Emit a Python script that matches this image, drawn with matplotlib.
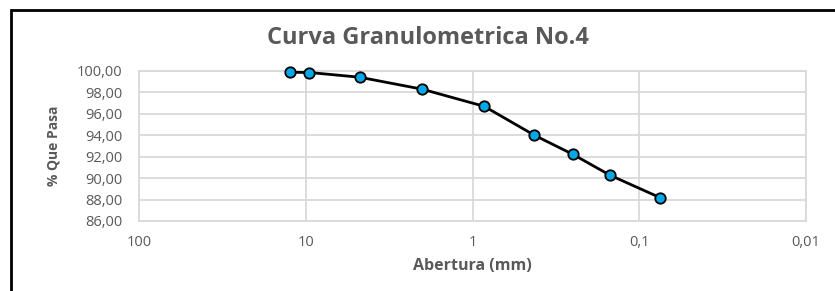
import matplotlib
matplotlib.use("Agg")
import matplotlib.pyplot as plt
from matplotlib.patches import Rectangle

abertura = [12.5, 9.5, 4.75, 2.0, 0.85, 0.425, 0.25, 0.15, 0.075]
pasa = [99.88, 99.86, 99.42, 98.30, 96.70, 94.00, 92.22, 90.28, 88.18]
x_ticks = [100, 10, 1, 0.1, 0.01]
x_labels = ["100", "10", "1", "0,1", "0,01"]
y_ticks = [86, 88, 90, 92, 94, 96, 98, 100]
y_labels = ["%.2f" % v for v in y_ticks]
y_labels = [s.replace(".", ",") for s in y_labels]

plt.rcParams["font.family"] = ["Open Sans", "DejaVu Sans"]
gray = "#595959"

fig = plt.figure(figsize=(8.35, 2.91), dpi=100)
fig.patches.append(Rectangle((11 / 835, -0.1), 2.0, (291 - 10) / 291 + 0.1,
                             transform=fig.transFigure, fill=False,
                             edgecolor="black", linewidth=2))

ax = fig.add_axes([139 / 835, 1 - 221 / 291, (806 - 139) / 835, 150 / 291])
ax.set_xscale("log")
ax.set_xlim(100, 0.01)
ax.set_ylim(86, 100)
ax.set_xticks(x_ticks)
ax.set_xticklabels(x_labels)
ax.minorticks_off()
ax.set_yticks(y_ticks)
ax.set_yticklabels(y_labels)
ax.tick_params(length=0, labelsize=10.5, labelcolor=gray)
ax.tick_params(axis="y", pad=12)
ax.tick_params(axis="x", pad=10)
ax.grid(True, color="#d9d9d9", linewidth=1.3)
for s in ax.spines.values():
    s.set_color("#d9d9d9")
    s.set_linewidth(1.3)

ax.plot(abertura, pasa, color="black", linewidth=2, marker="o",
        markersize=7.5, markerfacecolor="#00a8e8", markeredgecolor="black",
        markeredgewidth=1.3, zorder=3, clip_on=False)

ax.set_xlabel("Abertura (mm)", fontsize=11.5, fontweight="bold", color=gray, labelpad=6)
ax.set_ylabel("% Que Pasa", fontsize=10, fontweight="bold", color=gray, labelpad=12)
fig.text(428 / 835, 1 - 38 / 291, "Curva Granulometrica No.4", ha="center", va="center",
         fontsize=17, fontweight="bold", color=gray)

fig.savefig("out.png", dpi=100)
